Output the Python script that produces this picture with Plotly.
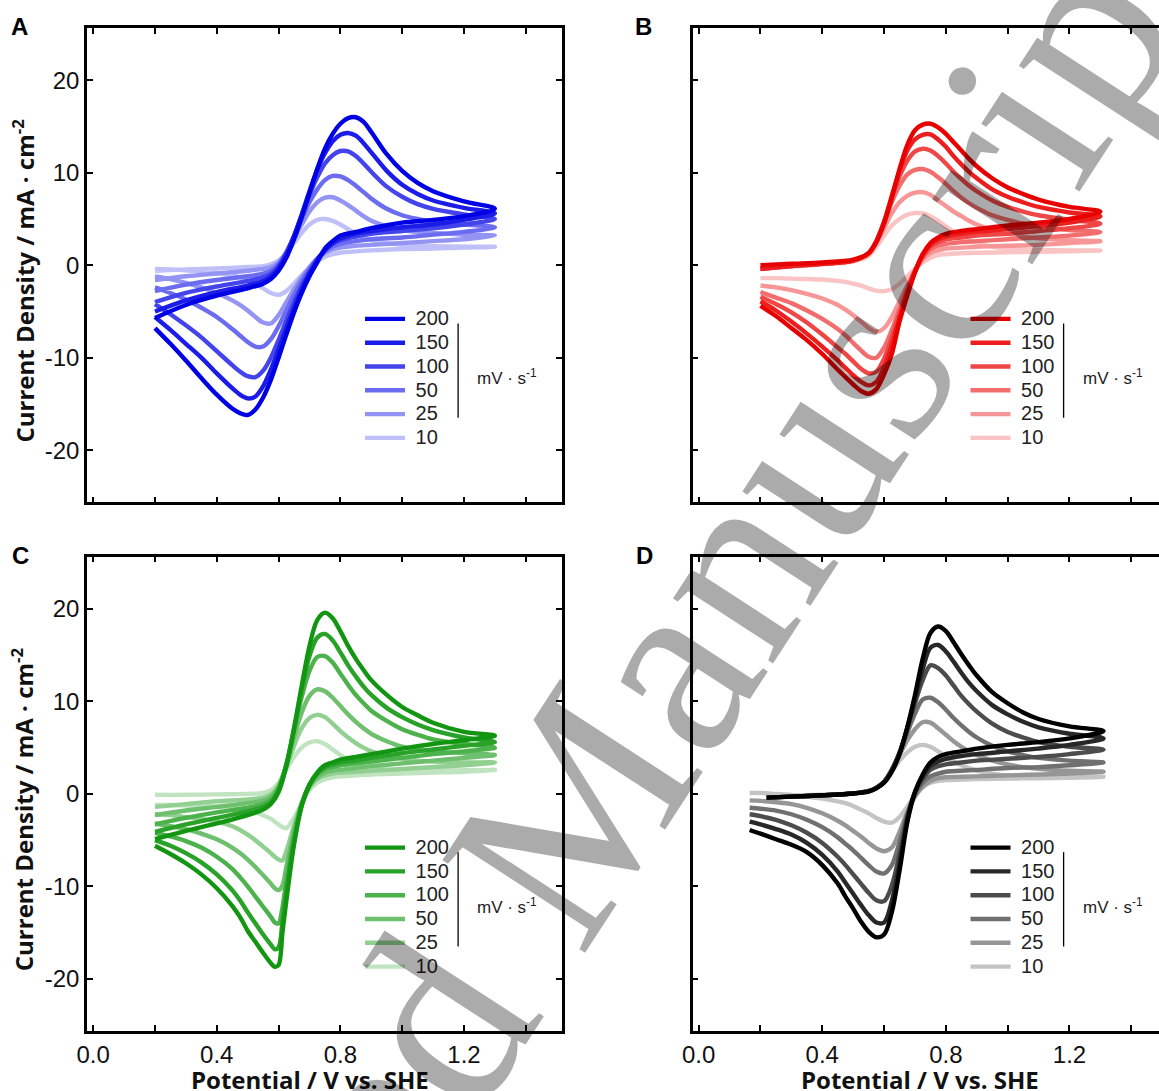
import plotly.graph_objects as go

W, H = 1159, 1091

RATE_LABELS = ["200", "150", "100", "50", "25", "10"]

# ---------------- colours (200 -> 10) ----------------
BLUE = ["rgb(0,0,228)", "rgb(28,28,232)", "rgb(68,68,236)", "rgb(108,108,240)", "rgb(148,148,244)", "rgb(192,192,249)"]
RED = ["rgb(232,0,0)", "rgb(236,30,30)", "rgb(239,70,70)", "rgb(242,110,110)", "rgb(246,150,150)", "rgb(250,196,196)"]
GREEN = ["rgb(18,150,18)", "rgb(40,162,40)", "rgb(76,178,76)", "rgb(110,192,110)", "rgb(146,208,146)", "rgb(192,228,192)"]
GREY = ["rgb(0,0,0)", "rgb(40,40,40)", "rgb(76,76,76)", "rgb(112,112,112)", "rgb(150,150,150)", "rgb(196,196,196)"]

# ---------------- potentials (V vs. SHE) ----------------
E_FWD = [0.2, 0.3, 0.4, 0.5, 0.55, 0.575, 0.6, 0.625, 0.65, 0.675, 0.7, 0.725, 0.75, 0.775, 0.8,
         0.825, 0.85, 0.875, 0.9, 0.95, 1.0, 1.05, 1.1, 1.2, 1.3]
E_REV = [1.3, 1.2, 1.1, 1.0, 0.9, 0.85, 0.8, 0.775, 0.75, 0.725, 0.7, 0.675, 0.65, 0.625, 0.6,
         0.575, 0.55, 0.525, 0.5, 0.475, 0.45, 0.4, 0.35, 0.3, 0.25, 0.2]
C_E_REV = [1.3, 1.2, 1.1, 1.0, 0.9, 0.85, 0.8, 0.775, 0.75, 0.725, 0.7, 0.675, 0.65, 0.625, 0.6125,
           0.6, 0.5875, 0.575, 0.55, 0.525, 0.5, 0.475, 0.45, 0.4, 0.35, 0.3, 0.25, 0.2]
D_E_FWD = [0.22, 0.3, 0.4, 0.5, 0.55, 0.575, 0.6, 0.625, 0.65, 0.675, 0.7, 0.725, 0.75, 0.775, 0.8,
           0.825, 0.85, 0.875, 0.9, 0.95, 1.0, 1.05, 1.1, 1.2, 1.31]
D_E_REV = [1.31, 1.2, 1.1, 1.0, 0.9, 0.85, 0.8, 0.775, 0.75, 0.725, 0.7, 0.675, 0.65, 0.625, 0.6,
           0.575, 0.55, 0.525, 0.5, 0.475, 0.45, 0.4, 0.35, 0.3, 0.25, 0.2, 0.165]

# ---------------- current densities (mA cm-2), rows: 200,150,100,50,25,10 mV/s ----------------
A_FWD = [
    [-5.7, -4.3, -3.3, -2.5, -2.0, -1.5, -0.6, 0.8, 2.8, 5.2, 7.8, 10.4, 12.6, 14.2, 15.3, 15.9, 16.0, 15.5, 14.4, 12.0, 10.2, 8.9, 8.0, 6.9, 6.1],
    [-5.0, -3.8, -2.9, -2.2, -1.7, -1.2, -0.3, 1.1, 3.1, 5.5, 8.0, 10.3, 12.1, 13.4, 14.1, 14.3, 14.0, 13.2, 12.2, 10.2, 8.7, 7.7, 7.0, 6.2, 5.6],
    [-4.0, -3.0, -2.3, -1.7, -1.3, -0.9, -0.1, 1.3, 3.2, 5.4, 7.6, 9.5, 11.0, 11.9, 12.35, 12.3, 11.8, 11.0, 10.1, 8.5, 7.4, 6.6, 6.1, 5.5, 5.0],
    [-2.8, -2.1, -1.6, -1.2, -0.9, -0.6, 0.1, 1.4, 3.1, 5.0, 6.8, 8.2, 9.2, 9.65, 9.6, 9.2, 8.6, 7.9, 7.2, 6.1, 5.4, 5.0, 4.7, 4.4, 4.1],
    [-1.6, -1.2, -0.9, -0.6, -0.4, -0.2, 0.3, 1.4, 2.9, 4.4, 5.8, 6.8, 7.3, 7.35, 7.0, 6.5, 5.9, 5.3, 4.8, 4.2, 3.8, 3.6, 3.5, 3.3, 3.2],
    [-0.6, -0.45, -0.35, -0.2, -0.1, 0.1, 0.5, 1.3, 2.4, 3.5, 4.4, 4.9, 5.0, 4.8, 4.4, 3.9, 3.4, 3.0, 2.7, 2.4, 2.2, 2.1, 2.05, 2.0, 2.0],
]
A_REV = [
    [6.1, 5.3, 4.9, 4.6, 4.0, 3.6, 3.2, 2.6, 1.8, 0.3, -1.2, -3.0, -5.1, -7.5, -10.0, -12.4, -14.3, -15.6, -16.2, -16.0, -15.5, -14.0, -12.2, -10.3, -8.5, -6.8],
    [5.6, 4.9, 4.4, 4.1, 3.7, 3.4, 2.9, 2.4, 1.6, 0.5, -0.9, -2.6, -4.6, -6.8, -9.1, -11.3, -13.1, -14.2, -14.4, -14.0, -13.3, -11.7, -10.0, -8.5, -7.0, -5.6],
    [5.0, 4.4, 4.0, 3.7, 3.4, 3.1, 2.7, 2.3, 1.6, 0.6, -0.7, -2.2, -4.0, -6.0, -8.1, -10.0, -11.4, -12.1, -12.0, -11.5, -10.8, -9.3, -7.8, -6.5, -5.3, -4.2],
    [4.1, 3.6, 3.3, 3.0, 2.8, 2.6, 2.3, 2.0, 1.5, 0.7, -0.4, -1.7, -3.2, -4.9, -6.6, -8.0, -8.8, -8.8, -8.3, -7.6, -6.9, -5.6, -4.6, -3.7, -3.0, -2.4],
    [3.2, 2.8, 2.6, 2.4, 2.2, 2.1, 1.9, 1.7, 1.3, 0.7, -0.2, -1.3, -2.6, -4.0, -5.4, -6.3, -6.2, -5.6, -4.9, -4.3, -3.8, -3.0, -2.4, -1.9, -1.5, -1.2],
    [2.0, 1.9, 1.8, 1.75, 1.6, 1.5, 1.35, 1.2, 0.9, 0.4, -0.3, -1.1, -2.0, -2.8, -3.2, -3.0, -2.5, -2.0, -1.6, -1.3, -1.1, -0.85, -0.7, -0.55, -0.45, -0.4],
]
B_FWD = [
    [0.0, 0.15, 0.3, 0.6, 1.3, 2.5, 4.5, 7.3, 10.4, 13.0, 14.6, 15.2, 15.3, 14.9, 14.2, 13.3, 12.4, 11.5, 10.7, 9.4, 8.4, 7.7, 7.1, 6.3, 5.8],
    [-0.4, -0.1, 0.15, 0.5, 1.3, 2.6, 4.7, 7.5, 10.2, 12.4, 13.6, 14.1, 14.15, 13.6, 12.8, 11.8, 10.9, 10.1, 9.4, 8.2, 7.4, 6.8, 6.3, 5.7, 5.3],
    [-0.4, -0.1, 0.15, 0.5, 1.3, 2.6, 4.7, 7.3, 9.6, 11.3, 12.3, 12.6, 12.4, 11.8, 11.0, 10.1, 9.3, 8.6, 8.0, 7.0, 6.3, 5.8, 5.4, 4.9, 4.5],
    [-0.4, -0.1, 0.15, 0.5, 1.3, 2.6, 4.6, 6.8, 8.6, 9.8, 10.3, 10.4, 10.1, 9.5, 8.8, 8.0, 7.3, 6.7, 6.2, 5.4, 4.9, 4.5, 4.2, 3.8, 3.6],
    [-0.4, -0.1, 0.15, 0.5, 1.2, 2.4, 4.0, 5.6, 6.8, 7.5, 7.85, 7.9, 7.6, 7.0, 6.4, 5.8, 5.3, 4.8, 4.4, 3.8, 3.4, 3.1, 2.9, 2.7, 2.6],
    [-0.4, -0.15, 0.1, 0.4, 1.0, 2.0, 3.2, 4.3, 5.0, 5.45, 5.65, 5.6, 5.3, 4.8, 4.2, 3.6, 3.1, 2.7, 2.4, 2.0, 1.8, 1.7, 1.65, 1.6, 1.6],
]
B_REV = [
    [5.8, 5.0, 4.6, 4.3, 3.9, 3.7, 3.4, 3.0, 2.4, 1.2, -0.8, -3.3, -6.1, -9.6, -11.8, -13.4, -13.9, -13.6, -12.9, -12.1, -11.3, -9.6, -8.1, -6.8, -5.5, -4.4],
    [5.3, 4.6, 4.2, 3.9, 3.6, 3.4, 3.1, 2.8, 2.2, 1.1, -0.7, -3.0, -5.7, -8.6, -11.0, -12.6, -13.0, -12.6, -11.9, -11.1, -10.3, -8.8, -7.4, -6.1, -4.9, -3.9],
    [4.5, 4.0, 3.7, 3.4, 3.2, 3.0, 2.8, 2.5, 2.0, 1.0, -0.6, -2.7, -5.2, -7.8, -10.1, -11.5, -11.7, -11.2, -10.4, -9.6, -8.9, -7.5, -6.2, -5.1, -4.2, -3.4],
    [3.6, 3.2, 3.0, 2.8, 2.6, 2.5, 2.3, 2.1, 1.7, 0.8, -0.6, -2.5, -4.7, -7.0, -8.9, -10.0, -9.9, -9.2, -8.4, -7.6, -6.9, -5.8, -4.9, -4.1, -3.5, -2.9],
    [2.6, 2.4, 2.2, 2.1, 2.0, 1.9, 1.8, 1.6, 1.3, 0.6, -0.6, -2.2, -3.9, -5.6, -6.8, -7.2, -6.8, -6.1, -5.4, -4.8, -4.3, -3.6, -3.1, -2.7, -2.4, -2.2],
    [1.6, 1.5, 1.45, 1.4, 1.35, 1.3, 1.2, 1.1, 0.8, 0.3, -0.4, -1.2, -2.0, -2.6, -2.8, -2.75, -2.5, -2.2, -2.0, -1.8, -1.7, -1.55, -1.5, -1.45, -1.4, -1.4],
]
C_FWD = [
    [-4.9, -4.0, -3.2, -2.3, -1.7, -1.1, 0.2, 3.0, 7.1, 11.7, 16.0, 18.8, 19.6, 19.0, 17.6, 16.0, 14.6, 13.4, 12.3, 10.7, 9.4, 8.5, 7.7, 6.7, 6.3],
    [-4.1, -3.3, -2.6, -1.9, -1.4, -0.9, 0.4, 3.1, 7.0, 11.3, 14.9, 16.9, 17.3, 16.6, 15.3, 13.9, 12.7, 11.6, 10.7, 9.3, 8.3, 7.5, 6.9, 6.1, 5.6],
    [-3.3, -2.6, -2.0, -1.5, -1.1, -0.6, 0.6, 3.2, 6.8, 10.5, 13.3, 14.8, 14.9, 14.2, 13.0, 11.8, 10.7, 9.8, 9.0, 7.9, 7.0, 6.4, 5.9, 5.4, 5.0],
    [-2.3, -1.8, -1.4, -1.0, -0.7, -0.3, 0.8, 3.1, 6.1, 8.8, 10.6, 11.3, 11.1, 10.4, 9.5, 8.6, 7.8, 7.1, 6.5, 5.7, 5.1, 4.8, 4.6, 4.4, 4.2],
    [-1.4, -1.1, -0.8, -0.6, -0.4, -0.05, 0.9, 2.9, 5.2, 7.1, 8.2, 8.55, 8.3, 7.6, 6.8, 6.1, 5.5, 5.0, 4.6, 4.1, 3.8, 3.6, 3.5, 3.4, 3.4],
    [-0.1, -0.1, -0.05, 0.0, 0.1, 0.4, 1.2, 2.6, 4.0, 5.0, 5.55, 5.7, 5.4, 4.8, 4.2, 3.7, 3.3, 3.0, 2.8, 2.6, 2.5, 2.5, 2.5, 2.55, 2.6],
]
C_REV = [
    [6.3, 5.8, 5.4, 4.9, 4.3, 4.0, 3.7, 3.4, 3.1, 2.3, 1.0, -1.3, -5.5, -11.6, -15.0, -18.5, -18.7, -18.3, -17.2, -16.0, -14.8, -13.3, -12.1, -10.2, -8.7, -7.5, -6.5, -5.6],
    [5.6, 5.2, 4.8, 4.4, 3.9, 3.6, 3.4, 3.2, 2.9, 2.2, 1.0, -1.2, -5.1, -10.6, -13.9, -16.6, -16.8, -16.3, -15.2, -14.0, -12.8, -11.5, -10.4, -8.7, -7.4, -6.4, -5.6, -5.0],
    [5.0, 4.6, 4.3, 3.9, 3.5, 3.3, 3.1, 2.9, 2.7, 2.1, 0.9, -1.1, -4.6, -9.4, -12.3, -14.0, -13.9, -13.3, -12.2, -11.1, -10.0, -9.0, -8.1, -6.8, -5.8, -5.1, -4.6, -4.2],
    [4.2, 3.9, 3.6, 3.3, 3.0, 2.8, 2.6, 2.5, 2.3, 1.8, 0.8, -1.0, -4.0, -7.9, -9.9, -10.4, -10.2, -9.7, -8.8, -7.9, -7.1, -6.4, -5.8, -4.9, -4.3, -3.8, -3.5, -3.2],
    [3.4, 3.1, 2.9, 2.7, 2.5, 2.4, 2.3, 2.2, 2.0, 1.6, 0.7, -1.0, -3.4, -6.2, -7.2, -7.1, -6.8, -6.4, -5.7, -5.0, -4.4, -3.9, -3.5, -3.0, -2.7, -2.5, -2.3, -2.2],
    [2.6, 2.4, 2.3, 2.2, 2.1, 2.0, 1.9, 1.8, 1.6, 1.2, 0.4, -1.0, -2.6, -3.7, -3.6, -3.3, -3.0, -2.7, -2.3, -2.0, -1.8, -1.6, -1.5, -1.35, -1.3, -1.25, -1.2, -1.2],
]
D_FWD = [
    [-0.4, -0.3, -0.15, 0.05, 0.25, 0.6, 1.2, 2.4, 4.3, 7.2, 10.7, 14.6, 17.4, 18.1, 17.6, 16.4, 15.1, 13.9, 12.8, 11.0, 9.8, 8.8, 8.1, 7.3, 6.8],
    [-0.4, -0.3, -0.15, 0.05, 0.3, 0.65, 1.3, 2.5, 4.4, 7.1, 10.3, 13.5, 15.8, 16.1, 15.4, 14.3, 13.1, 12.0, 11.1, 9.6, 8.6, 7.8, 7.2, 6.5, 6.0],
    [-0.4, -0.3, -0.15, 0.05, 0.3, 0.65, 1.3, 2.6, 4.5, 7.0, 9.8, 12.3, 13.9, 13.6, 12.8, 11.7, 10.6, 9.7, 8.9, 7.6, 6.7, 6.1, 5.6, 5.1, 4.8],
    [-0.4, -0.3, -0.15, 0.05, 0.3, 0.65, 1.3, 2.6, 4.4, 6.6, 8.7, 10.2, 10.4, 9.9, 9.1, 8.2, 7.4, 6.7, 6.1, 5.2, 4.6, 4.2, 3.9, 3.6, 3.4],
    [-0.4, -0.3, -0.15, 0.05, 0.3, 0.65, 1.3, 2.6, 4.2, 5.8, 7.0, 7.75, 7.7, 7.1, 6.4, 5.7, 5.1, 4.6, 4.2, 3.6, 3.2, 2.9, 2.7, 2.5, 2.4],
    [-0.2, -0.15, -0.1, 0.05, 0.3, 0.65, 1.3, 2.4, 3.6, 4.5, 5.1, 5.3, 5.1, 4.6, 4.0, 3.5, 3.1, 2.8, 2.5, 2.2, 2.0, 1.95, 1.9, 1.85, 1.85],
]
D_REV = [
    [6.8, 6.0, 5.6, 5.3, 4.9, 4.6, 4.3, 4.0, 3.4, 2.1, 0.2, -3.1, -8.3, -12.8, -15.2, -15.5, -14.9, -13.8, -12.4, -11.1, -9.7, -7.7, -6.3, -5.5, -4.9, -4.3, -3.9],
    [6.0, 5.3, 4.9, 4.6, 4.3, 4.1, 3.8, 3.5, 3.0, 1.9, 0.2, -2.8, -7.5, -11.6, -13.9, -13.9, -13.1, -12.0, -10.8, -9.6, -8.4, -6.6, -5.3, -4.4, -3.8, -3.3, -3.0],
    [4.8, 4.3, 4.0, 3.8, 3.6, 3.4, 3.2, 3.0, 2.6, 1.6, 0.1, -2.5, -6.5, -9.9, -11.6, -11.5, -10.7, -9.7, -8.7, -7.7, -6.8, -5.3, -4.2, -3.4, -2.8, -2.4, -2.2],
    [3.4, 3.1, 2.9, 2.8, 2.6, 2.5, 2.4, 2.2, 1.9, 1.2, -0.1, -2.2, -5.2, -7.7, -8.6, -8.4, -7.7, -6.9, -6.1, -5.4, -4.7, -3.6, -2.8, -2.2, -1.8, -1.6, -1.5],
    [2.4, 2.2, 2.1, 2.0, 1.9, 1.85, 1.8, 1.7, 1.4, 0.8, -0.3, -2.0, -4.1, -5.8, -6.2, -5.9, -5.3, -4.6, -4.0, -3.4, -2.9, -2.1, -1.5, -1.1, -0.9, -0.75, -0.7],
    [1.85, 1.75, 1.7, 1.65, 1.6, 1.55, 1.5, 1.4, 1.2, 0.7, -0.2, -1.4, -2.5, -3.1, -3.0, -2.6, -2.1, -1.7, -1.3, -1.0, -0.8, -0.5, -0.3, -0.1, 0.0, 0.1, 0.1],
]

X_MAJOR = [0.0, 0.4, 0.8, 1.2]
X_TICKTEXT = ["0.0", "0.4", "0.8", "1.2"]
X_MINOR = [0.2, 0.6, 1.0, 1.4]
Y_TICKS = [-20, -10, 0, 10, 20]
Y_TICKTEXT = ["-20", "-10", "0", "10", "20"]


def px(x):
    return x / W


def py(y):
    return 1 - y / H


fig = go.Figure()

panels = [
    dict(letter="A", xa="x", ya="y", leg="legend", ef=E_FWD, er=E_REV, jf=A_FWD, jr=A_REV, col=BLUE,
         left=87.0, top=28.0, full=True, letter_x=19.5, title_x=310.0),
    dict(letter="B", xa="x2", ya="y2", leg="legend2", ef=E_FWD, er=E_REV, jf=B_FWD, jr=B_REV, col=RED,
         left=692.5, top=28.0, full=False, letter_x=643.5, title_x=920.0),
    dict(letter="C", xa="x3", ya="y3", leg="legend3", ef=E_FWD, er=C_E_REV, jf=C_FWD, jr=C_REV, col=GREEN,
         left=87.0, top=556.7, full=True, letter_x=20.0, title_x=310.0),
    dict(letter="D", xa="x4", ya="y4", leg="legend4", ef=D_E_FWD, er=D_E_REV, jf=D_FWD, jr=D_REV, col=GREY,
         left=692.5, top=556.7, full=False, letter_x=644.0, title_x=920.0),
]

PLOT_W = 475.0
PLOT_H = 474.4
PX_PER_V = 309.0
X0 = -0.02

font_ticks = dict(family="Liberation Sans, Arial, sans-serif", size=24, color="#111111")
layout_axes = {}
annotations = []
shapes = []
legends = {}

for i, p in enumerate(panels):
    for k in reversed(range(6)):
        xs = list(p["ef"]) + list(p["er"][1:])
        ys = list(p["jf"][k]) + list(p["jr"][k][1:])
        fig.add_trace(go.Scatter(
            x=xs, y=ys, mode="lines",
            line=dict(color=p["col"][k], width=4.4, shape="spline", smoothing=0.9),
            name='<span style="font-size:20px">\u00a0' + RATE_LABELS[k] + '</span>',
            xaxis=p["xa"], yaxis=p["ya"], legend=p["leg"], showlegend=True,
        ))

    left = p["left"]
    top = p["top"]
    right = min(left + PLOT_W, W)
    bottom = top + PLOT_H
    xmax = X0 + (right - left) / PX_PER_V
    bottom_row = p["letter"] in ("C", "D")
    left_col = p["letter"] in ("A", "C")
    n = "" if i == 0 else str(i + 1)

    layout_axes["xaxis" + n] = dict(
        domain=[px(left), px(right)], range=[X0, xmax], anchor="y" + n,
        tickmode="array", tickvals=X_MAJOR, ticktext=X_TICKTEXT,
        showticklabels=bottom_row, tickfont=font_ticks,
        ticks="inside", ticklen=6, tickwidth=2, tickcolor="black",
        minor=dict(tickmode="array", tickvals=X_MINOR, ticks="inside", ticklen=6, tickwidth=2,
                   tickcolor="black", showgrid=False),
        showline=True, linewidth=2.5, linecolor="black", mirror="allticks",
        showgrid=False, zeroline=False, ticklabelstandoff=0, automargin=False,
    )
    layout_axes["yaxis" + n] = dict(
        domain=[py(bottom), py(top)], range=[-25.65, 25.65], anchor="x" + n,
        tickmode="array", tickvals=Y_TICKS, ticktext=Y_TICKTEXT,
        showticklabels=left_col, tickfont=font_ticks,
        ticks="inside", ticklen=6, tickwidth=2, tickcolor="black",
        showline=True, linewidth=2.5, linecolor="black",
        mirror="allticks" if p["full"] else False,
        showgrid=False, zeroline=False, ticklabelstandoff=0, automargin=False,
    )

    legends[p["leg"]] = dict(
        x=px(left + 273), y=py(top + 274), xanchor="left", yanchor="top",
        xref="paper", yref="paper",
        bgcolor="rgba(0,0,0,0)", borderwidth=0, traceorder="reversed",
        font=dict(family="Liberation Sans, Arial, sans-serif", size=16, color="#222222"),
        itemwidth=40, tracegroupgap=0,
    )

    # unit label and bracket
    annotations.append(dict(
        x=1.236, y=-12.1, xref=p["xa"], yref=p["ya"], xanchor="left", yanchor="middle",
        text="mV · s<sup>-1</sup>", showarrow=False,
        font=dict(family="Liberation Sans, Arial, sans-serif", size=17, color="#222222"),
    ))
    shapes.append(dict(type="line", xref=p["xa"], yref=p["ya"], x0=1.181, x1=1.181, y0=-6.3, y1=-16.5,
                       line=dict(color="black", width=1.3)))

    # panel letter
    annotations.append(dict(
        x=px(p["letter_x"]), y=py(top - 1.5), xref="paper", yref="paper", xanchor="center", yanchor="middle",
        text="<b>" + p["letter"] + "</b>", showarrow=False,
        font=dict(family="Liberation Sans, Arial, sans-serif", size=24, color="black"),
    ))

    if left_col:
        annotations.append(dict(
            x=px(22.5), y=py(top + 253), xref="paper", yref="paper", xanchor="center", yanchor="middle",
            text="<b>Current Density / mA · cm<sup>-2</sup></b>", showarrow=False, textangle=-90,
            font=dict(family="Open Sans, sans-serif", size=24, color="#111111"),
        ))
    if bottom_row:
        annotations.append(dict(
            x=px(p["title_x"]), y=py(1079), xref="paper", yref="paper", xanchor="center", yanchor="middle",
            text="<b>Potential / V vs. SHE</b>", showarrow=False,
            font=dict(family="Open Sans, sans-serif", size=24, color="#111111"),
        ))

# watermark
annotations.append(dict(
    x=px(545), y=py(853), xref="paper", yref="paper", xanchor="center", yanchor="middle",
    text="Accepted Manuscript", showarrow=False, textangle=-57,
    font=dict(family="Liberation Serif, Times New Roman, serif", size=260, color="rgba(0,0,0,0.33)"),
))

fig.update_layout(
    width=W, height=H, autosize=False,
    margin=dict(l=0, r=0, t=0, b=0, pad=0, autoexpand=False),
    paper_bgcolor="white", plot_bgcolor="white",
    annotations=annotations, shapes=shapes,
    **layout_axes, **legends,
)

fig.write_html(
    "out.html",
    config={"displayModeBar": False},
    post_script="document.body.style.margin='0px';document.body.style.overflow='hidden';",
)
